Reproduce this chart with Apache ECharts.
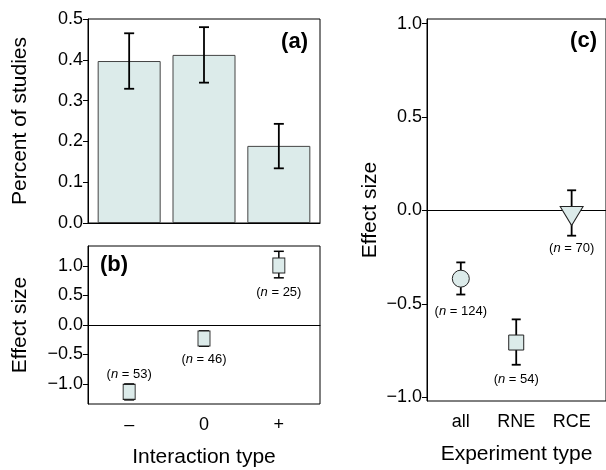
<!DOCTYPE html>
<html>
<head>
<meta charset="utf-8">
<script src="https://cdn.jsdelivr.net/npm/echarts@6/dist/echarts.min.js"></script>
<style>html,body{margin:0;padding:0;background:#fff}#chart{width:606px;height:470px}</style>
</head>
<body>
<div id="chart"></div>
<script>
// ---- data ----
const interactionTypes = ['\u2013', '0', '+'];
const percentStudies = [0.397, 0.412, 0.189];
const percentLow = [0.329, 0.344, 0.134];
const percentHigh = [0.465, 0.480, 0.243];
const percentTicks = [0, 0.1, 0.2, 0.3, 0.4, 0.5];

const effectByInteraction = [-1.135, -0.23, 1.01];
const effectByInteractionLow = [-1.27, -0.36, 0.80];
const effectByInteractionHigh = [-1.0, -0.10, 1.25];
const nByInteraction = [53, 46, 25];
const effectTicksB = [-1, -0.5, 0, 0.5, 1];

const experimentTypes = ['all', 'RNE', 'RCE'];
const effectByExperiment = [-0.365, -0.707, -0.03];
const effectByExperimentLow = [-0.45, -0.826, -0.135];
const effectByExperimentHigh = [-0.278, -0.583, 0.108];
const nByExperiment = [124, 54, 70];
const effectTicksC = [-1, -0.5, 0, 0.5, 1];

// ---- styling / option building ----
const FONT = '"Liberation Sans", Arial, Helvetica, sans-serif';
const FILL = '#dcebea';
const EDGE = '#444';

const fmt = v => (v < -1e-9 ? '\u2212' : '') + Math.abs(v).toFixed(1);

function errData(lo, hi) { return lo.map((l, i) => [i + 1, l, hi[i]]); }
function errRender(cap, lw) {
  return function (params, api) {
    const x = api.value(0);
    const p1 = api.coord([x, api.value(1)]);
    const p2 = api.coord([x, api.value(2)]);
    const st = { stroke: '#000', lineWidth: lw };
    return {
      type: 'group',
      children: [
        { type: 'line', shape: { x1: p1[0], y1: p1[1], x2: p2[0], y2: p2[1] }, style: st },
        { type: 'line', shape: { x1: p1[0] - cap, y1: p1[1], x2: p1[0] + cap, y2: p1[1] }, style: st },
        { type: 'line', shape: { x1: p2[0] - cap, y1: p2[1], x2: p2[0] + cap, y2: p2[1] }, style: st }
      ]
    };
  };
}
const nLabel = n => '({i|n} = ' + n + ')';
const nRich = { i: { fontStyle: 'italic', fontSize: 13, fontFamily: FONT, color: '#000' } };

function yAxisBase(gridIndex, min, max, ticks, name, nameGap) {
  return {
    type: 'value', gridIndex, min, max,
    axisLine: { show: true, lineStyle: { color: '#000', width: 1 } },
    axisTick: { show: true, length: 5, customValues: ticks, lineStyle: { color: '#000' } },
    axisLabel: { customValues: ticks, formatter: fmt, fontSize: 18, color: '#000', fontFamily: FONT, margin: 5 },
    splitLine: { show: false },
    name, nameLocation: 'middle', nameGap, nameRotate: 90,
    nameTextStyle: { fontSize: 21, color: '#000', fontFamily: FONT }
  };
}
function xAxisBase(gridIndex, min, max, cats, name) {
  return {
    type: 'value', gridIndex, min, max,
    axisLine: { show: true, lineStyle: { color: '#000', width: 1 } },
    axisTick: { show: false },
    splitLine: { show: false },
    axisLabel: cats ? { show: true, customValues: cats.map((c, i) => i + 1), formatter: v => cats[Math.round(v) - 1] || '',
      fontSize: 18, color: '#000', fontFamily: FONT, margin: 12 } : { show: false },
    name: name || '', nameLocation: 'middle', nameGap: 43,
    nameTextStyle: { fontSize: 21, color: '#000', fontFamily: FONT }
  };
}

const zeroLine = {
  silent: true, symbol: 'none', label: { show: false },
  lineStyle: { color: '#000', width: 1, type: 'solid' },
  data: [{ yAxis: 0 }]
};

const placementB = [['top', 3], ['bottom', 6], ['bottom', 12]];
const placementC = [['bottom', 17], ['bottom', 22], ['bottom', 16]];

const option = {
  animation: false,
  backgroundColor: '#fff',
  grid: [
    { left: 88, top: 19, width: 232, height: 204, show: true, borderColor: '#000', borderWidth: 1, backgroundColor: 'transparent' },
    { left: 88, top: 246, width: 232, height: 158, show: true, borderColor: '#000', borderWidth: 1, backgroundColor: 'transparent' },
    { left: 427, top: 19, right: -2, height: 385, show: true, borderColor: '#000', borderWidth: 1, backgroundColor: 'transparent' }
  ],
  xAxis: [
    xAxisBase(0, 0.45, 3.55, null, ''),
    xAxisBase(1, 0.45, 3.55, interactionTypes, 'Interaction type'),
    xAxisBase(2, 0.39, 3.62, experimentTypes, 'Experiment type')
  ],
  yAxis: [
    yAxisBase(0, 0, 0.5, percentTicks, 'Percent of studies', 57),
    yAxisBase(1, -1.34, 1.34, effectTicksB, 'Effect size', 57),
    yAxisBase(2, -1.02, 1.025, effectTicksC, 'Effect size', 46)
  ],
  series: [
    {
      type: 'bar', xAxisIndex: 0, yAxisIndex: 0, barWidth: 63,
      data: percentStudies.map((v, i) => [i + 1, v]),
      itemStyle: { color: FILL, borderColor: EDGE, borderWidth: 1 }
    },
    {
      type: 'custom', xAxisIndex: 0, yAxisIndex: 0, z: 5,
      data: errData(percentLow, percentHigh), renderItem: errRender(5, 1.8),
      encode: { x: 0, y: [1, 2] }
    },
    {
      type: 'custom', xAxisIndex: 1, yAxisIndex: 1, z: 2,
      data: errData(effectByInteractionLow, effectByInteractionHigh), renderItem: errRender(5, 1.5),
      encode: { x: 0, y: [1, 2] }, markLine: zeroLine
    },
    {
      type: 'scatter', xAxisIndex: 1, yAxisIndex: 1, z: 6,
      symbol: 'rect', symbolSize: [12, 15],
      itemStyle: { color: FILL, borderColor: '#222', borderWidth: 1, opacity: 1 },
      data: effectByInteraction.map((v, i) => ({
        value: [i + 1, v],
        label: { show: true, position: placementB[i][0], distance: placementB[i][1],
          formatter: nLabel(nByInteraction[i]), rich: nRich, fontSize: 13, color: '#000', fontFamily: FONT }
      }))
    },
    {
      type: 'custom', xAxisIndex: 2, yAxisIndex: 2, z: 2,
      data: errData(effectByExperimentLow, effectByExperimentHigh), renderItem: errRender(4.5, 1.8),
      encode: { x: 0, y: [1, 2] }, markLine: zeroLine
    },
    {
      type: 'scatter', xAxisIndex: 2, yAxisIndex: 2, z: 6,
      itemStyle: { color: FILL, borderColor: '#222', borderWidth: 1, opacity: 1 },
      data: effectByExperiment.map((v, i) => ({
        value: [i + 1, v],
        symbol: ['circle', 'rect', 'triangle'][i],
        symbolSize: [[17, 17], [15, 15], [23, 19]][i],
        symbolRotate: [0, 0, 180][i],
        label: { show: true, position: placementC[i][0], distance: placementC[i][1],
          formatter: nLabel(nByExperiment[i]), rich: nRich, fontSize: 13, color: '#000', fontFamily: FONT }
      }))
    }
  ],
  graphic: [
    { type: 'text', right: 606 - 308, top: 31, style: { text: '(a)', font: 'bold 22px ' + FONT, fill: '#000' } },
    { type: 'text', left: 100, top: 254, style: { text: '(b)', font: 'bold 22px ' + FONT, fill: '#000' } },
    { type: 'text', right: 9, top: 30, style: { text: '(c)', font: 'bold 22px ' + FONT, fill: '#000' } }
  ]
};

const chart = echarts.init(document.getElementById('chart'), null, { renderer: 'canvas' });
chart.setOption(option);
</script>
</body>
</html>
